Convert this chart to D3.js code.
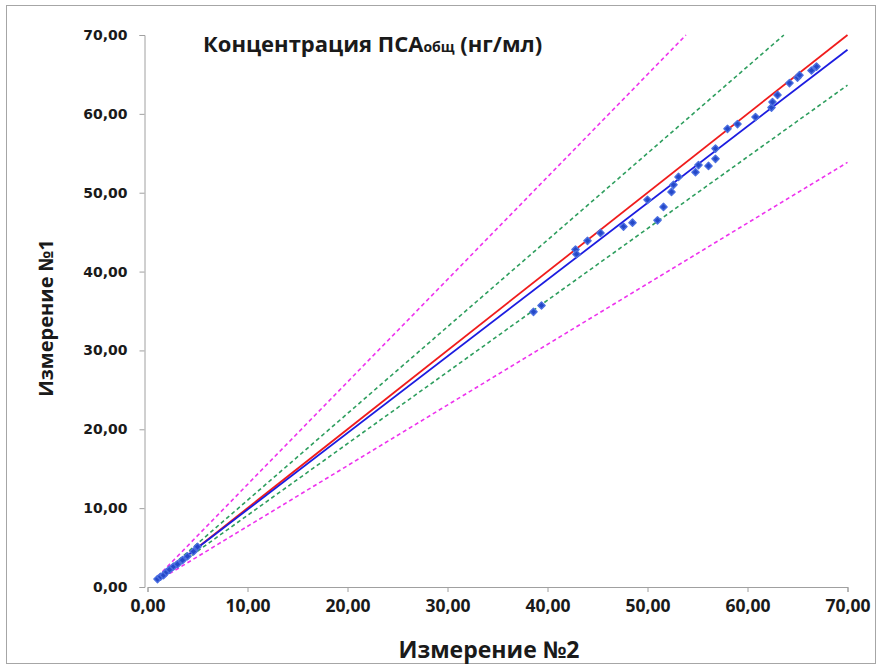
<!DOCTYPE html>
<html><head><meta charset="utf-8">
<script src="https://cdn.jsdelivr.net/npm/d3@7"></script>
<style>html,body{margin:0;padding:0;background:#fff;}svg{display:block;}</style>
</head><body>
<svg id="chart" width="880" height="668"></svg>
<script>
// Data: Измерение №2 (x) vs Измерение №1 (y)
const measure2 = [1.0,1.3,1.6,1.9,2.2,2.6,3.0,3.5,4.0,4.6,5.0,
  38.6,39.4,42.8,42.9,44.0,45.3,47.6,48.5,51.0,50.0,51.6,52.4,52.6,53.1,54.8,55.1,56.1,56.8,56.8,
  58.0,59.0,60.8,62.4,62.5,63.0,64.2,65.0,65.2,66.4,66.9];
const measure1 = [1.0,1.3,1.5,1.9,2.2,2.6,2.9,3.4,3.9,4.5,5.1,
  34.9,35.7,42.8,42.2,43.9,44.9,45.7,46.2,46.5,49.1,48.2,50.1,51.0,52.0,52.6,53.5,53.4,54.3,55.6,
  58.1,58.7,59.6,60.8,61.5,62.4,63.9,64.6,64.9,65.5,66.0];
// Reference lines: y = slope * x + intercept
const lineNames = ["identity","regression","plus10","minus10","plus30","minus30"];
const lineSlopes = [1, 0.972, 1.1, 1/1.1, 1.3, 1/1.3];
const lineIntercepts = [0, 0.1, 0, 0, 0, 0];
const tickValues = [0,10,20,30,40,50,60,70];
const titleMain = "Концентрация ПСА";
const titleSub = "общ";
const titleTail = " (нг/мл)";
const xLabel = "Измерение №2";
const yLabel = "Измерение №1";

const svg = d3.select("#chart");
const lineColor = {identity:"#f01c1c", regression:"#1c1ce0", plus10:"#2e9e5e", minus10:"#2e9e5e", plus30:"#ee33ee", minus30:"#ee33ee"};
const lineDash = {identity:null, regression:null, plus10:"4,3", minus10:"4,3", plus30:"4,3", minus30:"4,3"};

svg.append("rect").attr("x",6.5).attr("y",5.5).attr("width",869).attr("height",658)
  .attr("fill","#fff").attr("stroke","#a6a6a6").attr("stroke-width",1);

const x = d3.scaleLinear().domain([0,70]).range([147.5,847.5]);
const y = d3.scaleLinear().domain([0,70]).range([587,35]);

const fmt = d => d.toFixed(2).replace(".", ",");

const xAxis = svg.append("g").attr("transform","translate(0,587)")
  .call(d3.axisBottom(x).tickValues(tickValues).tickFormat(fmt).tickSizeOuter(0).tickSize(5).tickPadding(8));
xAxis.select(".domain").attr("stroke","#a0a0a0");
xAxis.selectAll(".tick line").attr("stroke","#a0a0a0");
xAxis.selectAll("text").attr("font-family","'Open Sans', sans-serif").attr("font-weight","bold")
  .attr("font-size","17.5px").attr("fill","#1a1a1a");

const yAxis = svg.append("g").attr("transform","translate(144.5,0)")
  .call(d3.axisLeft(y).tickValues(tickValues).tickFormat(fmt).tickSizeOuter(0).tickSize(5).tickPadding(12));
yAxis.select(".domain").attr("stroke","#a0a0a0");
yAxis.selectAll(".tick line").attr("stroke","#a0a0a0");
yAxis.selectAll("text").attr("font-family","'DejaVu Sans', Verdana, sans-serif").attr("font-weight","bold")
  .attr("font-size","14px").attr("fill","#1a1a1a");

// lines
const xStart = 1.0, xEnd = 70;
lineNames.forEach((n,i) => {
  const s = lineSlopes[i], b = lineIntercepts[i];
  let x2 = xEnd, y2 = s*xEnd + b;
  if (y2 > 70) { x2 = (70 - b)/s; y2 = 70; }
  svg.append("line")
    .attr("x1", x(xStart)).attr("y1", y(s*xStart+b))
    .attr("x2", x(x2)).attr("y2", y(y2))
    .attr("stroke", lineColor[n]).attr("stroke-width", n==="identity"||n==="regression"?1.8:1.6)
    .attr("stroke-dasharray", lineDash[n]);
});

// points (equal-sided diamonds)
const sym = d3.symbol().type(d3.symbolSquare).size(26);
svg.append("g").selectAll("path").data(measure2).join("path")
  .attr("d", sym)
  .attr("transform", (d,i) => `translate(${x(d)},${y(measure1[i])}) rotate(45)`)
  .attr("fill","#2448c8").attr("stroke","#4a6ee0").attr("stroke-width",1.4).attr("stroke-linejoin","round");

// title
const t = svg.append("text").attr("x",203).attr("y",52)
  .attr("font-family","'Open Sans', sans-serif").attr("font-weight","bold").attr("font-size","22px").attr("fill","#1a1a1a");
t.append("tspan").text(titleMain);
t.append("tspan").attr("font-size","14px").text(titleSub);
t.append("tspan").text(titleTail);

svg.append("text").attr("x",489).attr("y",658).attr("text-anchor","middle")
  .attr("font-family","'Open Sans', sans-serif").attr("font-weight","bold").attr("font-size","23px").attr("fill","#1a1a1a")
  .text(xLabel);
svg.append("text").attr("transform","translate(53,318) rotate(-90)").attr("text-anchor","middle")
  .attr("font-family","'Open Sans', sans-serif").attr("font-weight","bold").attr("font-size","20px").attr("fill","#1a1a1a")
  .text(yLabel);
</script>
</body></html>
